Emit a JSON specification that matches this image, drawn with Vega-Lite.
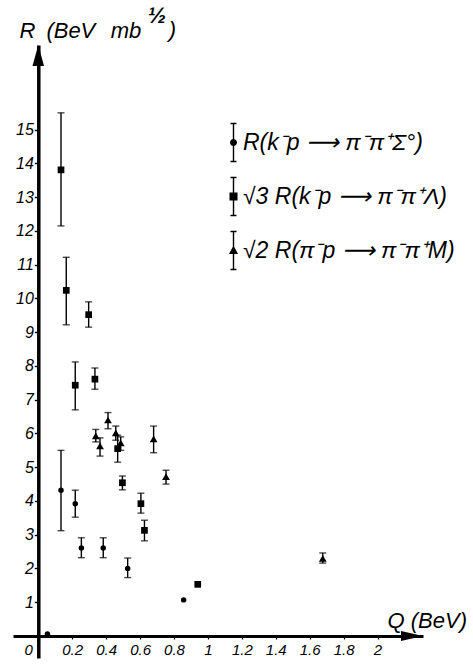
{
  "$schema": "https://vega.github.io/schema/vega-lite/v6.json",
  "width": 410,
  "height": 613,
  "autosize": {"type": "none"},
  "padding": {"left": 13, "top": 45, "right": 50, "bottom": 6},
  "background": "white",
  "config": {"view": {"stroke": null}, "font": "Liberation Sans", "axis": {"grid": false}},
  "data": {"values": [
    {"series": "R(k⁻p ⟶ π⁻π⁺Σ°)", "q": 0.054, "r": 0.06, "lo": null, "hi": null},
    {"series": "R(k⁻p ⟶ π⁻π⁺Σ°)", "q": 0.134, "r": 4.32, "lo": 3.12, "hi": 5.5},
    {"series": "R(k⁻p ⟶ π⁻π⁺Σ°)", "q": 0.218, "r": 3.92, "lo": 3.52, "hi": 4.32},
    {"series": "R(k⁻p ⟶ π⁻π⁺Σ°)", "q": 0.254, "r": 2.61, "lo": 2.32, "hi": 2.91},
    {"series": "R(k⁻p ⟶ π⁻π⁺Σ°)", "q": 0.383, "r": 2.61, "lo": 2.32, "hi": 2.91},
    {"series": "R(k⁻p ⟶ π⁻π⁺Σ°)", "q": 0.527, "r": 2.0, "lo": 1.73, "hi": 2.31},
    {"series": "R(k⁻p ⟶ π⁻π⁺Σ°)", "q": 0.857, "r": 1.07, "lo": null, "hi": null},
    {"series": "√3 R(k⁻p ⟶ π⁻π⁺Λ)", "q": 0.134, "r": 13.81, "lo": 12.15, "hi": 15.5},
    {"series": "√3 R(k⁻p ⟶ π⁻π⁺Λ)", "q": 0.165, "r": 10.24, "lo": 9.22, "hi": 11.22},
    {"series": "√3 R(k⁻p ⟶ π⁻π⁺Λ)", "q": 0.218, "r": 7.43, "lo": 6.7, "hi": 8.12},
    {"series": "√3 R(k⁻p ⟶ π⁻π⁺Λ)", "q": 0.297, "r": 9.52, "lo": 9.15, "hi": 9.9},
    {"series": "√3 R(k⁻p ⟶ π⁻π⁺Λ)", "q": 0.334, "r": 7.61, "lo": 7.31, "hi": 7.94},
    {"series": "√3 R(k⁻p ⟶ π⁻π⁺Λ)", "q": 0.468, "r": 5.55, "lo": 5.15, "hi": 5.95},
    {"series": "√3 R(k⁻p ⟶ π⁻π⁺Λ)", "q": 0.496, "r": 4.54, "lo": 4.33, "hi": 4.74},
    {"series": "√3 R(k⁻p ⟶ π⁻π⁺Λ)", "q": 0.605, "r": 3.92, "lo": 3.64, "hi": 4.23},
    {"series": "√3 R(k⁻p ⟶ π⁻π⁺Λ)", "q": 0.626, "r": 3.13, "lo": 2.82, "hi": 3.43},
    {"series": "√3 R(k⁻p ⟶ π⁻π⁺Λ)", "q": 0.94, "r": 1.53, "lo": null, "hi": null},
    {"series": "√2 R(π⁻p ⟶ π⁻π⁺M)", "q": 0.339, "r": 5.93, "lo": 5.75, "hi": 6.12},
    {"series": "√2 R(π⁻p ⟶ π⁻π⁺M)", "q": 0.364, "r": 5.63, "lo": 5.33, "hi": 5.87},
    {"series": "√2 R(π⁻p ⟶ π⁻π⁺M)", "q": 0.411, "r": 6.4, "lo": 6.14, "hi": 6.62},
    {"series": "√2 R(π⁻p ⟶ π⁻π⁺M)", "q": 0.457, "r": 6.02, "lo": 5.8, "hi": 6.22},
    {"series": "√2 R(π⁻p ⟶ π⁻π⁺M)", "q": 0.486, "r": 5.72, "lo": 5.5, "hi": 5.9},
    {"series": "√2 R(π⁻p ⟶ π⁻π⁺M)", "q": 0.68, "r": 5.84, "lo": 5.43, "hi": 6.22},
    {"series": "√2 R(π⁻p ⟶ π⁻π⁺M)", "q": 0.753, "r": 4.72, "lo": 4.5, "hi": 4.91},
    {"series": "√2 R(π⁻p ⟶ π⁻π⁺M)", "q": 1.677, "r": 2.3, "lo": 2.16, "hi": 2.46}
  ]},
  "layer": [
    {
      "mark": {"type": "point", "filled": true, "color": "black", "opacity": 1},
      "encoding": {
        "x": {"field": "q", "type": "quantitative", "scale": {"domain": [-0.149, 2.268], "nice": false, "zero": false},
          "axis": {"orient": "bottom", "offset": -22, "values": [0, 0.2, 0.4, 0.6, 0.8, 1, 1.2, 1.4, 1.6, 1.8, 2],
            "labelExpr": "'' + datum.value",
            "labelOffset": {"condition": {"test": "datum.value == 0", "value": -10}, "value": 0},
            "domainColor": "black", "domainWidth": 3, "tickColor": "black", "tickSize": 3, "tickWidth": 1.2,
            "labelFontSize": 15, "labelFontStyle": "italic", "labelColor": "black", "labelPadding": 3,
            "title": "Q (BeV)", "titleX": 374, "titleY": -9, "titleAlign": "left", "titleBaseline": "alphabetic", "titleAngle": 0,
            "titleFontSize": 22, "titleFontStyle": "italic", "titleFontWeight": "normal", "titleColor": "black"}},
        "y": {"field": "r", "type": "quantitative", "scale": {"domain": [-0.652, 17.51], "nice": false, "zero": false},
          "axis": {"orient": "left", "offset": -25.3, "values": [1, 2, 3, 4, 5, 6, 7, 8, 9, 10, 11, 12, 13, 14, 15],
            "domainColor": "black", "domainWidth": 3.5, "tickColor": "black", "tickSize": 4, "tickWidth": 1.4,
            "labelFontSize": 16, "labelFontStyle": "italic", "labelColor": "black", "labelPadding": 1,
            "title": "R\u2002(BeV\u2002\u2009mb", "titleX": -19.3, "titleY": -8, "titleAlign": "left", "titleBaseline": "alphabetic", "titleAngle": 0,
            "titleFontSize": 22, "titleFontStyle": "italic", "titleFontWeight": "normal", "titleColor": "black"}},
        "shape": {"field": "series", "type": "nominal",
          "scale": {"domain": ["R(k⁻p ⟶ π⁻π⁺Σ°)", "√3 R(k⁻p ⟶ π⁻π⁺Λ)", "√2 R(π⁻p ⟶ π⁻π⁺M)"], "range": ["circle", "square", "triangle-up"]},
          "legend": null},
        "size": {"field": "series", "type": "nominal",
          "scale": {"domain": ["R(k⁻p ⟶ π⁻π⁺Σ°)", "√3 R(k⁻p ⟶ π⁻π⁺Λ)", "√2 R(π⁻p ⟶ π⁻π⁺M)"], "range": [30, 60, 55]},
          "legend": null}
      }
    },
    {
      "transform": [{"filter": "datum.lo != null"}],
      "mark": {"type": "errorbar", "ticks": {"size": 7, "thickness": 1.4, "color": "black"}, "thickness": 1.4, "color": "black"},
      "encoding": {
        "x": {"field": "q", "type": "quantitative", "scale": {"domain": [-0.149, 2.268], "nice": false, "zero": false}, "axis": {"title": "Q (BeV)"}},
        "y": {"field": "lo", "type": "quantitative", "scale": {"domain": [-0.652, 17.51], "nice": false, "zero": false}, "axis": {"title": "R\u2002(BeV\u2002\u2009mb"}},
        "y2": {"field": "hi"}
      }
    },
    {
      "transform": [{"filter": "false"}],
      "mark": {"type": "point", "filled": true, "color": "black"},
      "encoding": {
        "x": {"field": "q", "type": "quantitative", "scale": {"domain": [-0.149, 2.268], "nice": false, "zero": false}},
        "y": {"field": "r", "type": "quantitative", "scale": {"domain": [-0.652, 17.51], "nice": false, "zero": false}},
        "shape": {"field": "series", "type": "nominal",
          "scale": {"domain": ["R(k⁻p ⟶ π⁻π⁺Σ°)", "√3 R(k⁻p ⟶ π⁻π⁺Λ)", "√2 R(π⁻p ⟶ π⁻π⁺M)"],
            "range": [
              "M-0.14,-3.8H0.14V3.8H-0.14ZM-0.6,-3.94H0.6V-3.66H-0.6ZM-0.6,3.66H0.6V3.94H-0.6ZM0.7,0A0.7,0.7,0,1,1,-0.7,0A0.7,0.7,0,1,1,0.7,0Z",
              "M-0.14,-3.8H0.14V3.8H-0.14ZM-0.6,-3.94H0.6V-3.66H-0.6ZM-0.6,3.66H0.6V3.94H-0.6ZM-0.8,-0.8H0.8V0.8H-0.8Z",
              "M-0.14,-3.8H0.14V3.8H-0.14ZM-0.6,-3.94H0.6V-3.66H-0.6ZM-0.6,3.66H0.6V3.94H-0.6ZM0,-1L0.9,0.7H-0.9Z"
            ]},
          "legend": {"title": null, "orient": "none", "legendX": 209, "legendY": 86, "padding": 0,
            "symbolSize": 100, "symbolFillColor": "black", "symbolStrokeColor": "black", "symbolStrokeWidth": 0, "symbolOpacity": 1,
            "labelFontSize": 23, "labelFontStyle": "italic", "labelColor": "black", "labelFont": "Liberation Sans",
            "labelOffset": -2, "rowPadding": 13, "labelLimit": 400}}
      }
    },
    {
      "data": {"values": [{}]},
      "mark": {"type": "point", "shape": "M0,0L-2,-0.45L-2,0.45Z", "filled": true, "color": "black", "size": 484, "opacity": 1},
      "encoding": {
        "x": {"datum": 2.268, "type": "quantitative", "scale": {"domain": [-0.149, 2.268], "nice": false, "zero": false}},
        "y": {"datum": 0, "type": "quantitative", "scale": {"domain": [-0.652, 17.51], "nice": false, "zero": false}}
      }
    },
    {
      "data": {"values": [{}]},
      "mark": {"type": "point", "shape": "M0,0L-0.55,2L0.55,2Z", "filled": true, "color": "black", "size": 441, "opacity": 1},
      "encoding": {
        "x": {"datum": 0, "type": "quantitative", "scale": {"domain": [-0.149, 2.268], "nice": false, "zero": false}},
        "y": {"datum": 17.51, "type": "quantitative", "scale": {"domain": [-0.652, 17.51], "nice": false, "zero": false}}
      }
    },
    {
      "data": {"values": [{}]},
      "mark": {"type": "text", "text": "½", "fontSize": 22, "fontStyle": "italic", "fontWeight": "bold", "align": "center", "baseline": "alphabetic", "color": "black", "font": "Liberation Sans"},
      "encoding": {
        "x": {"datum": 0.70, "type": "quantitative", "scale": {"domain": [-0.149, 2.268], "nice": false, "zero": false}},
        "y": {"datum": 18.16, "type": "quantitative", "scale": {"domain": [-0.652, 17.51], "nice": false, "zero": false}}
      }
    },
    {
      "data": {"values": [{}]},
      "mark": {"type": "text", "text": ")", "fontSize": 22, "fontStyle": "italic", "align": "center", "baseline": "alphabetic", "color": "black", "font": "Liberation Sans"},
      "encoding": {
        "x": {"datum": 0.79, "type": "quantitative", "scale": {"domain": [-0.149, 2.268], "nice": false, "zero": false}},
        "y": {"datum": 17.75, "type": "quantitative", "scale": {"domain": [-0.652, 17.51], "nice": false, "zero": false}}
      }
    }
  ],
  "resolve": {"scale": {"shape": "independent", "size": "independent"}}
}
